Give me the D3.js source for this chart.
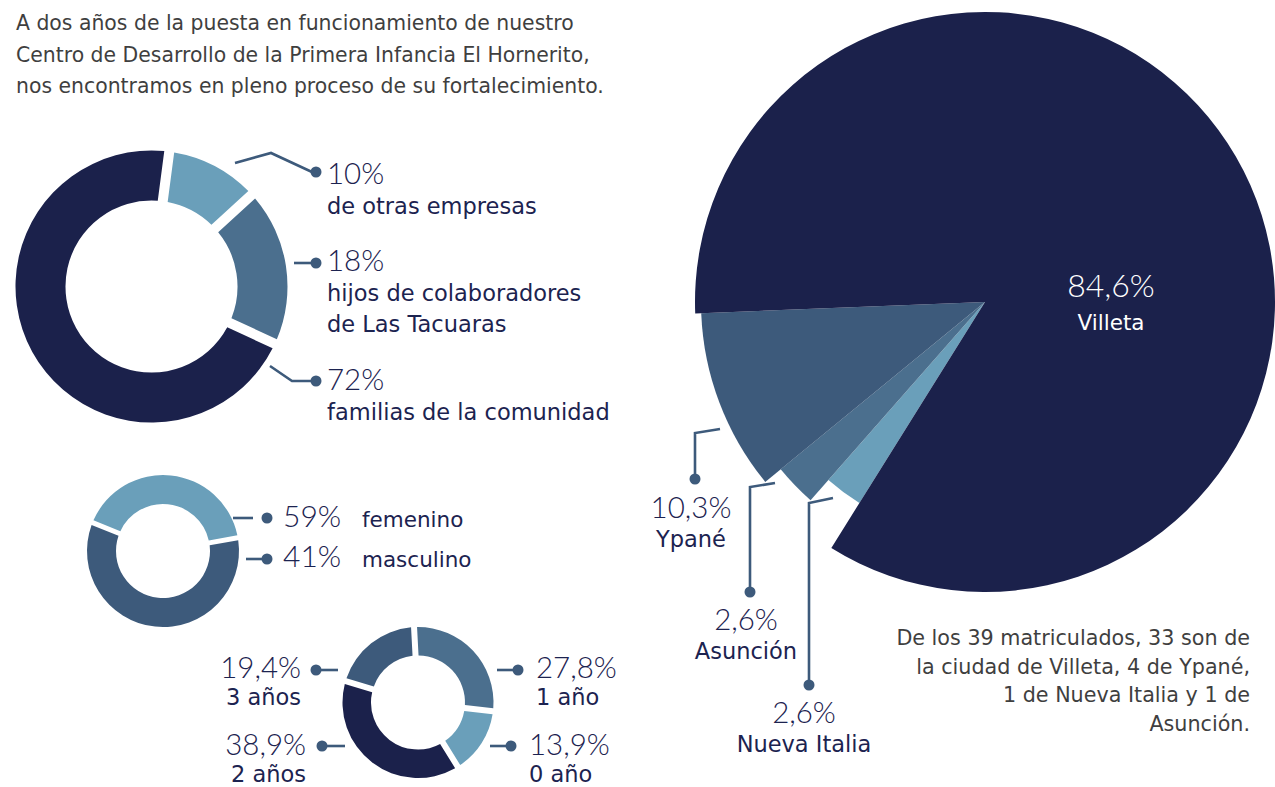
<!DOCTYPE html>
<html><head><meta charset="utf-8">
<script src="https://cdn.jsdelivr.net/npm/d3@7"></script>
<style>body{margin:0;background:#fff} svg{display:block}</style>
</head><body><svg id="c" width="1275" height="787"></svg>
<script>
// ---------- DATA ----------
const titleLines = [
  "A dos años de la puesta en funcionamiento de nuestro",
  "Centro de Desarrollo de la Primera Infancia El Hornerito,",
  "nos encontramos en pleno proceso de su fortalecimiento."
];
const originCategories = [["de otras empresas"], ["hijos de colaboradores", "de Las Tacuaras"], ["familias de la comunidad"]];
const originValues = [10, 18, 72];
const genderCategories = ["femenino", "masculino"];
const genderValues = [59, 41];
const ageCategories = ["1 año", "0 año", "2 años", "3 años"];
const ageValues = [27.8, 13.9, 38.9, 19.4];
const cityCategories = ["Nueva Italia", "Asunción", "Ypané", "Villeta"];
const cityValues = [2.6, 2.6, 10.3, 84.6];
const noteLines = [
  "De los 39 matriculados, 33 son de",
  "la ciudad de Villeta, 4 de Ypané,",
  "1 de Nueva Italia y 1 de",
  "Asunción."
];

// ---------- STYLE / LAYOUT ----------
const C = { navy: "#1b214b", light: "#6a9fba", mid: "#4b6f8e", steel: "#3d5a7b", text: "#1c2350", gray: "#3f3f3f", lead: "#3d5a7b" };
const deg = Math.PI / 180;
const pct = v => String(v).replace(".", ",") + "%";
const PCT_FONT = "Lato, 'DejaVu Sans', sans-serif";
const LBL_FONT = "'DejaVu Sans', sans-serif";

const svg = d3.select("#c");

function donut(cx, cy, cats, vals, colors, o) {
  const data = cats.map((c, i) => ({ cat: c, value: vals[i], color: colors[i], i }));
  const pie = d3.pie().sort(null).value(d => d.value)
    .startAngle(o.start).endAngle(o.start + 2 * Math.PI).padAngle(o.pad || 0);
  const arc = d3.arc().innerRadius(o.inner)
    .outerRadius(d => typeof o.outer === "function" ? o.outer(d) : o.outer)
    .padRadius(o.padRadius || 100);
  const g = svg.append("g").attr("transform", `translate(${cx},${cy})`);
  g.selectAll("path").data(pie(data)).join("path")
    .attr("d", arc).attr("fill", d => d.data.color);
  return g;
}

function leader(points, dot) {
  svg.append("path").attr("d", d3.line()(points))
    .attr("fill", "none").attr("stroke", C.lead).attr("stroke-width", 2.6);
  svg.append("circle").attr("cx", dot[0]).attr("cy", dot[1]).attr("r", 5.5).attr("fill", C.lead);
}

function text(x, y, str, o = {}) {
  return svg.append("text").attr("x", x).attr("y", y).text(str)
    .attr("font-family", o.font || LBL_FONT).attr("font-size", o.size || 22)
    .attr("font-weight", o.weight || 400).attr("fill", o.fill || C.text)
    .attr("text-anchor", o.anchor || "start");
}

// ---------- TITLE ----------
titleLines.forEach((l, i) => text(16, 30 + i * 31.5, l, { size: 20.4, fill: C.gray }));

// ---------- DONUT 1: origin ----------
donut(151.5, 286.5, originCategories, originValues, [C.light, C.mid, C.navy],
  { start: 7.5 * deg, inner: 86, outer: 136, pad: 0.1, padRadius: 100 });
const originLayout = [
  { pts: [[235, 163], [271, 153], [312, 172]], dot: [316, 172], y: 183.5 },
  { pts: [[294, 263], [316, 263]], dot: [316, 263], y: 271 },
  { pts: [[270, 366], [292, 381], [316, 381]], dot: [316, 381], y: 390 }
];
originLayout.forEach((L, i) => {
  leader(L.pts, L.dot);
  text(327, L.y, pct(originValues[i]), { font: PCT_FONT, size: 29.5, weight: 300 });
  originCategories[i].forEach((line, j) => text(327, L.y + 30 + j * 30.5, line, { size: 22.5 }));
});

// ---------- DONUT 2: gender ----------
donut(163, 551, genderCategories, genderValues, [C.steel, C.light],
  { start: 80 * deg, inner: 47, outer: 76, pad: 0.05, padRadius: 100 });
const genderLayout = [
  { pts: [[233, 518], [253, 518]], dot: [267, 518], y: 527 },
  { pts: [[246, 559], [267, 559]], dot: [267, 559], y: 567 }
];
genderLayout.forEach((L, i) => {
  leader(L.pts, L.dot);
  text(283, L.y, pct(genderValues[i]), { font: PCT_FONT, size: 30, weight: 300 });
  text(362, L.y, genderCategories[i], { size: 21.5 });
});

// ---------- DONUT 3: age ----------
donut(418, 702.5, ageCategories, ageValues, [C.mid, C.light, C.navy, C.steel],
  { start: -3 * deg, inner: 47, outer: 75.5, pad: 0.06, padRadius: 100 });
const ageLayout = [
  { pts: [[497, 670], [518, 670]], dot: [518, 670], x: 536, y: 678, anchor: "start" },
  { pts: [[490, 746], [511, 746]], dot: [511, 746], x: 529, y: 755, anchor: "start" },
  { pts: [[322, 746], [345, 746]], dot: [322, 746], x: 306, y: 755, anchor: "end" },
  { pts: [[316, 670], [338, 670]], dot: [316, 670], x: 301, y: 678, anchor: "end" }
];
ageLayout.forEach((L, i) => {
  leader(L.pts, L.dot);
  text(L.x, L.y, pct(ageValues[i]), { font: PCT_FONT, size: 29.5, weight: 300, anchor: L.anchor });
  text(L.x, L.y + 27, ageCategories[i], { size: 22.5, anchor: L.anchor });
});

// ---------- BIG PIE: city ----------
const cityRadius = { "Nueva Italia": 237, "Asunción": 264, "Ypané": 284, "Villeta": 290 };
donut(985, 302, cityCategories, cityValues, [C.light, C.mid, C.steel, C.navy],
  { start: 212 * deg, inner: 0, outer: d => cityRadius[d.data.cat] });
const cityLayout = [
  { pts: [[833, 498], [809, 503], [809, 685]], dot: [809, 685], x: 804, y: 723 },
  { pts: [[775, 483], [750, 487], [750, 592]], dot: [750, 592], x: 746, y: 630 },
  { pts: [[720, 429], [695, 433], [695, 479]], dot: [695, 479], x: 691, y: 518 }
];
cityLayout.forEach((L, i) => {
  leader(L.pts, L.dot);
  text(L.x, L.y, pct(cityValues[i]), { font: PCT_FONT, size: 29.5, weight: 300, anchor: "middle" });
  text(L.x, L.y + 29, cityCategories[i], { size: 22.5, anchor: "middle" });
});
text(1111, 297, pct(cityValues[3]), { font: PCT_FONT, size: 32, weight: 300, anchor: "middle", fill: "#ffffff" });
text(1111, 330, cityCategories[3], { size: 21.5, anchor: "middle", fill: "#ffffff" });

// ---------- NOTE ----------
noteLines.forEach((l, i) => text(1250, 645 + i * 28.5, l, { size: 20.7, fill: C.gray, anchor: "end" }));
</script></body></html>
